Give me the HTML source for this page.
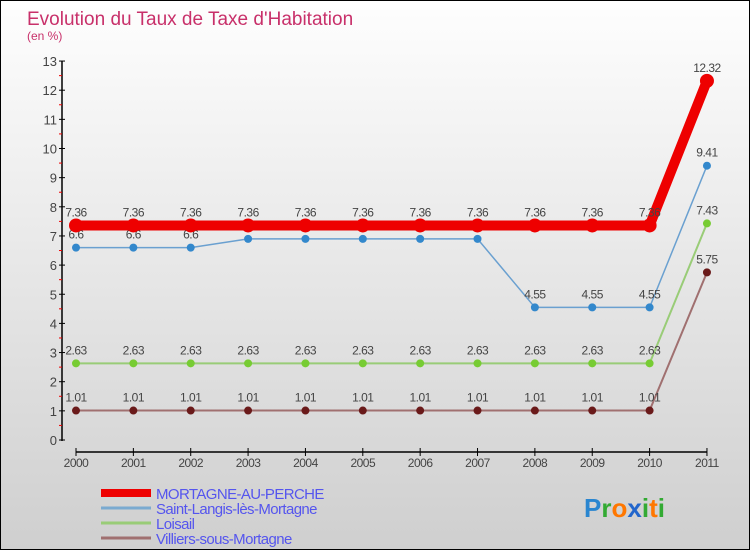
<!DOCTYPE html>
<html><head><meta charset="utf-8"><style>
body{margin:0}
#c{width:750px;height:550px;position:relative;box-sizing:border-box;border:1px solid #000;background:linear-gradient(#fefefe,#cfcfcf);font-family:"Liberation Sans",sans-serif;overflow:hidden}
</style></head><body>
<div id="c">
<svg id="s" width="748" height="548" style="position:absolute;left:0;top:0">
<text x="26" y="24" font-size="19" fill="#c8306a">Evolution du Taux de Taxe d'Habitation</text>
<text x="26" y="39" font-size="12" fill="#c8306a">(en %)</text>
</svg>
</div>
<script>
const years=["2000","2001","2002","2003","2004","2005","2006","2007","2008","2009","2010","2011"];
const mortagne=[7.36,7.36,7.36,7.36,7.36,7.36,7.36,7.36,7.36,7.36,7.36,12.32];
const saintLangis=[6.6,6.6,6.6,6.9,6.9,6.9,6.9,6.9,4.55,4.55,4.55,9.41];
const loisail=[2.63,2.63,2.63,2.63,2.63,2.63,2.63,2.63,2.63,2.63,2.63,7.43];
const villiers=[1.01,1.01,1.01,1.01,1.01,1.01,1.01,1.01,1.01,1.01,1.01,5.75];
const yTicks=[0,1,2,3,4,5,6,7,8,9,10,11,12,13];
const seriesNames=["MORTAGNE-AU-PERCHE","Saint-Langis-lès-Mortagne","Loisail","Villiers-sous-Mortagne"];
const s=document.getElementById('s');const NS="http://www.w3.org/2000/svg";
function X(i){return 75+i*57.36}
function Y(v){return 439-v*29.15}
function el(t,a,p){const e=document.createElementNS(NS,t);for(const k in a)e.setAttribute(k,a[k]);(p||s).appendChild(e);return e}
let ya=el('line',{x1:61,y1:Y(13),x2:61,y2:Y(0)+1,stroke:'#000','stroke-width':1.5});


yTicks.forEach(v=>{el('line',{x1:58,x2:64,y1:Y(v),y2:Y(v),stroke:'#000'});
 if(v<13)el('line',{x1:58,x2:61,y1:Y(v+0.5),y2:Y(v+0.5),stroke:'#e00'});
 const t=el('text',{x:56,y:Y(v)+5,'text-anchor':'end','font-size':13,fill:'#444'});t.textContent=v;
 
 });
let xa=el('line',{x1:X(0),y1:451,x2:X(11),y2:451,stroke:'#000','stroke-width':1.5});


years.forEach((y,i)=>{el('line',{x1:X(i),x2:X(i),y1:447,y2:455,stroke:'#000'});
 const t=el('text',{x:X(i),y:466,'text-anchor':'middle','font-size':12,fill:'#444','letter-spacing':'-0.5'});t.textContent=y;
 
 });
function series(vals,color,lw,r,dot,name){
 const g=el('g',{});
 
 
 el('polyline',{points:vals.map((v,i)=>X(i)+','+Y(v)).join(' '),fill:'none',stroke:color,'stroke-width':lw},g);
 vals.forEach((v,i)=>{const c=el('circle',{cx:X(i),cy:Y(v),r:r,fill:dot},g);
  
  
  const t=el('text',{x:X(i),y:Y(v)-9,'text-anchor':'middle','font-size':12,fill:'#444','letter-spacing':'-0.5'},g);t.textContent=v;
  
  });
}
series(villiers,'#a07070',2,4,'#6a1a1a','villiers-series');
series(loisail,'#99cc77',2,4,'#77cc33','loisail-series');
series(saintLangis,'#6aa0d0',1.5,4,'#3388cc','saint-langis-series');
series(mortagne,'#ee0000',10,7,'#ee0000','mortagne-series');
const cols=[['#ee0000',8],['#7aaad0',3],['#99cc77',3],['#a07070',3]];
seriesNames.forEach((n,i)=>{const yy=493+i*15;
 const l=el('line',{x1:100,x2:150,y1:yy-1,y2:yy-1,stroke:cols[i][0],'stroke-width':cols[i][1]});
 
 
 const t=el('text',{x:155,y:yy+5,'font-size':15,fill:'#5555ee','letter-spacing':'-0.6'});t.textContent=n;
 
 });
const lg=el('text',{x:583,y:516,'font-size':26,'font-weight':'bold'});


[['P','#2a86d0'],['r','#33aa33'],['o','#ff7700'],['x','#2266cc'],['i','#33aa33'],['t','#ff7700'],['i','#33aa33']].forEach(([c,f])=>{const sp=el('tspan',{fill:f},lg);sp.textContent=c;});
</script>
</body></html>
